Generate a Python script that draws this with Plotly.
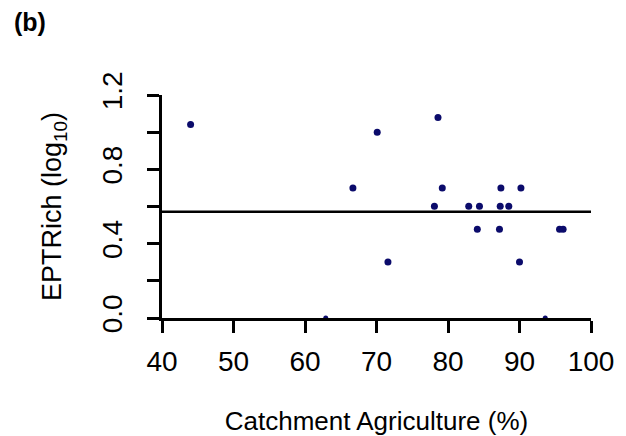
import numpy as np
import plotly.graph_objects as go

# Catchment agriculture (%) and EPT richness (log10) per site
agri = [44.0, 66.7, 70.1, 71.6, 78.1, 78.6, 79.2, 82.9, 84.1, 84.4,
        87.2, 87.3, 87.4, 88.5, 90.0, 90.2, 95.6, 96.1]
ept_log = [1.041, 0.699, 1.0, 0.301, 0.602, 1.079, 0.699, 0.602, 0.477, 0.602,
           0.477, 0.602, 0.699, 0.602, 0.301, 0.699, 0.477, 0.477]
# sites with a value of zero (hidden behind the x axis)
agri_zero = [62.9, 93.6]
ept_zero = [0.0, 0.0]

all_vals = ept_log + ept_zero
mean_val = float(np.mean(all_vals))

x_ticks = [40, 50, 60, 70, 80, 90, 100]
y_ticks = [0.0, 0.4, 0.8, 1.2]

navy = "#0b0b6b"
font_family = "Liberation Sans, Arial, sans-serif"

fig = go.Figure()
fig.add_trace(go.Scatter(x=[40, 100], y=[mean_val, mean_val], mode="lines",
                         line=dict(color="black", width=2.7), hoverinfo="skip"))
fig.add_trace(go.Scatter(x=agri, y=ept_log, mode="markers",
                         marker=dict(color=navy, size=7)))
fig.add_trace(go.Scatter(x=agri_zero, y=ept_zero, mode="markers",
                         marker=dict(color=navy, size=5), cliponaxis=True))

fig.update_layout(
    width=626, height=436,
    margin=dict(l=162, r=35, t=95, b=118, pad=0, autoexpand=False),
    paper_bgcolor="white", plot_bgcolor="white",
    showlegend=False,
    font=dict(family=font_family, color="black", size=27),
    annotations=[dict(text="<b>(b)</b>", x=0, y=0, xref="paper", yref="paper",
                      showarrow=False, font=dict(size=25, family="Liberation Sans, Arial"),
                      xanchor="left", yanchor="top")],
)
# place the (b) label in pixels
fig.layout.annotations[0].update(x=(12 - 162) / 429, y=1 + (95 - 6) / 223)

fig.update_xaxes(
    range=[40, 100], tickvals=x_ticks, ticktext=[str(v) for v in x_ticks],
    showgrid=False, zeroline=False, automargin=False,
    showline=True, linecolor="black", linewidth=2.7,
    ticks="outside", ticklen=12, tickwidth=2.5, tickcolor="black",
    tickfont=dict(size=28), ticklabelstandoff=5,
    title=dict(text="Catchment Agriculture (%)", font=dict(size=26), standoff=46),
)
fig.update_yaxes(
    range=[0, 1.2], tickvals=y_ticks, ticktext=[f"{v:.1f}" for v in y_ticks],
    tickangle=-90,
    showgrid=False, zeroline=False, automargin=False,
    showline=True, linecolor="black", linewidth=2.7,
    ticks="outside", ticklen=12, tickwidth=2.5, tickcolor="black",
    minor=dict(tickvals=[0.2, 0.6, 1.0], ticks="outside", ticklen=12,
               tickwidth=2.5, tickcolor="black", showgrid=False),
    tickfont=dict(size=28), ticklabelstandoff=14,
    title=dict(text="EPTRich (log<sub>10</sub>)", font=dict(size=27), standoff=28),
)

fig.write_html("out.html")
